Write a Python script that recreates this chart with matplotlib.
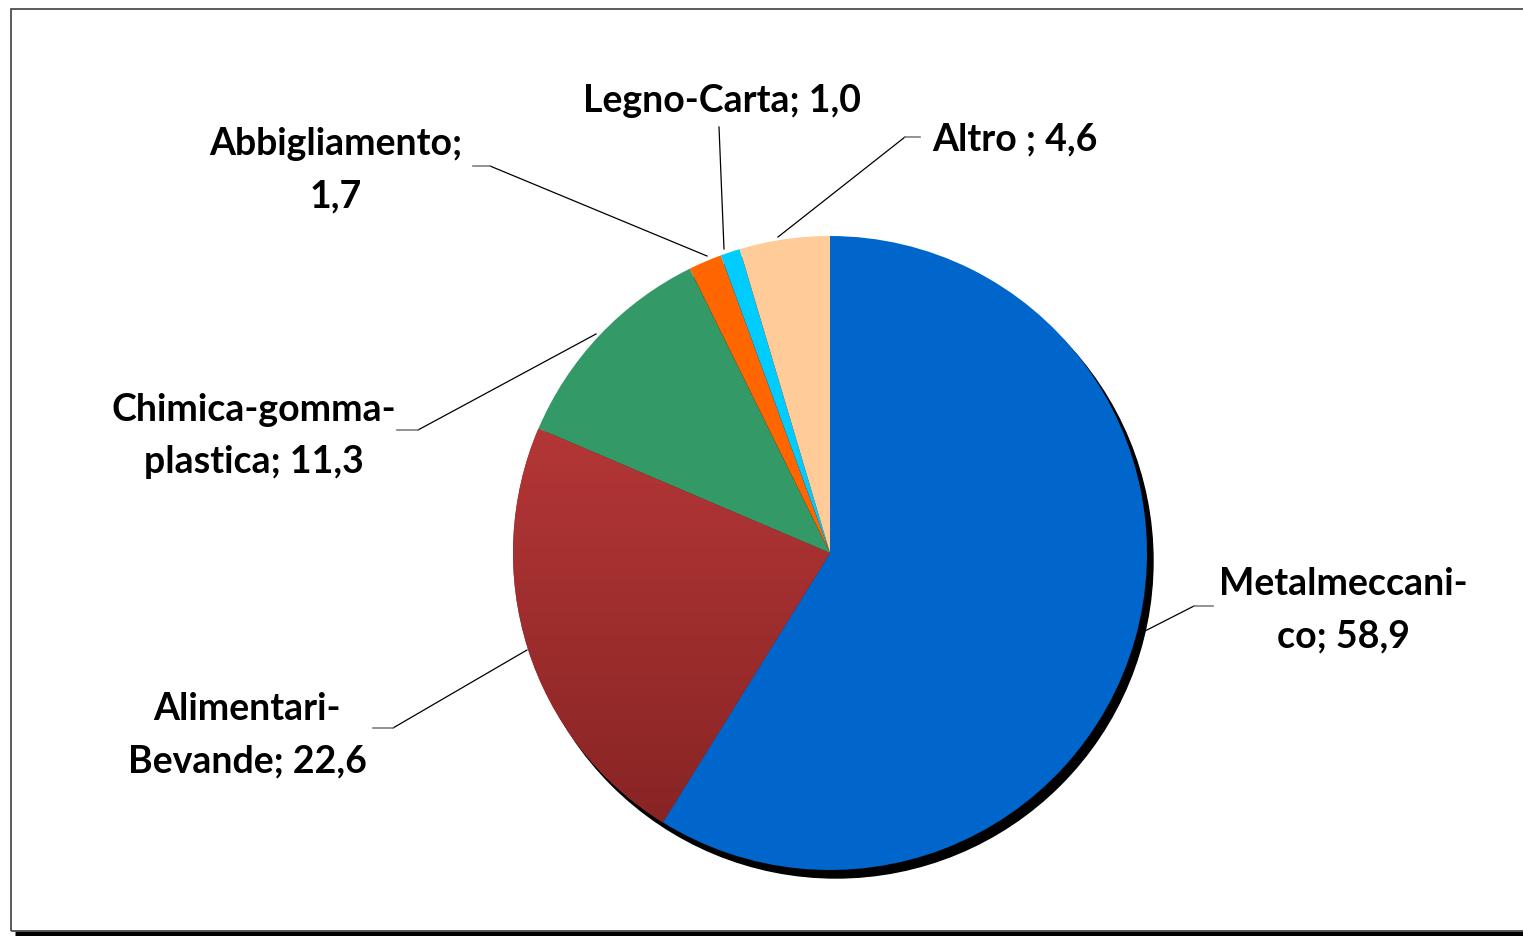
import numpy as np
import matplotlib.pyplot as plt
from matplotlib.patches import Circle, Rectangle
from matplotlib.colors import LinearSegmentedColormap

# quote per settore (%)
settori = ["Metalmeccanico", "Alimentari-Bevande", "Chimica-gomma-plastica",
           "Abbigliamento", "Legno-Carta", "Altro"]
quote = [58.9, 22.6, 11.3, 1.7, 1.0, 4.6]
etichette = ["Metalmeccani-\nco; 58,9", "Alimentari-\nBevande; 22,6",
             "Chimica-gomma-\nplastica; 11,3", "Abbigliamento;\n1,7",
             "Legno-Carta; 1,0", "Altro ; 4,6"]
colori = ["#0066CC", "#A83030", "#339966", "#FF6600", "#00CCFF", "#FFCC99"]

W, H = 1523, 937
fig = plt.figure(figsize=(W / 100, H / 100), dpi=100)
ax = fig.add_axes([0, 0, 1, 1])


def fy(y):
    # coordinate immagine -> coordinate assi
    return H - y


cx, cy, r = 830, fy(554), 317

# ombra
ax.add_patch(Circle((cx + 6, cy - 8), r, color="black", zorder=1))

wedges, _ = ax.pie(quote, colors=colori, startangle=90, counterclock=False,
                   center=(cx, cy), radius=r, frame=True,
                   wedgeprops=dict(linewidth=0))
for w in wedges:
    w.set_zorder(2)

# sfumatura sulla fetta rossa
grad = np.linspace(0, 1, 256).reshape(-1, 1)
cmap_r = LinearSegmentedColormap.from_list("rosso", ["#B53737", "#832222"])
img = ax.imshow(grad, cmap=cmap_r, extent=[cx - r, cx, fy(870), fy(420)],
                aspect="auto", zorder=3, origin="upper")
img.set_clip_path(wedges[1])

# etichette e linee guida (coordinate immagine)
pos_testo = [(1343, 610), (247, 735), (254, 436), (336, 170), (722, 101), (1015, 139)]
linee = [
    [(1145, 632), (1194, 607), (1213, 607)],
    [(527, 651), (393, 729), (373, 729)],
    [(596, 335), (418, 431), (397, 431)],
    [(707, 257), (490, 167), (473, 167)],
    [(724, 250), (719, 128)],
    [(778, 238), (905, 138), (920, 138)],
]
for lab, (tx, ty), pts in zip(etichette, pos_testo, linee):
    ax.text(tx, fy(ty), lab, ha="center", va="center", fontsize=27,
            fontweight="bold", family="Lato", linespacing=1.65, zorder=5)
    xs = [p[0] for p in pts]
    ys = [fy(p[1]) for p in pts]
    ax.plot(xs[:2], ys[:2], color="black", lw=0.9, zorder=4)
    if len(pts) > 2:
        ax.plot(xs[1:], ys[1:], color="#808080", lw=1.2, zorder=4)

# cornice
ax.add_patch(Rectangle((11, fy(932)), 1600, 922, fill=False,
                       edgecolor="#404040", lw=1.2, zorder=6))
ax.plot([15, W], [fy(934.5), fy(934.5)], color="black", lw=3.8,
        solid_capstyle="butt", zorder=7)

ax.set_xlim(0, W)
ax.set_ylim(0, H)
ax.set_aspect("equal")
ax.axis("off")

fig.savefig("out.png", dpi=100, facecolor="white")
